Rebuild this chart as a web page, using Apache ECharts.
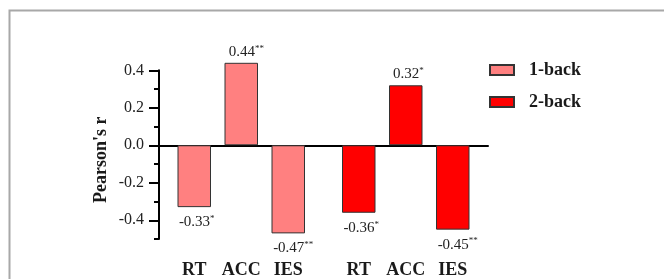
<!DOCTYPE html>
<html>
<head>
<meta charset="utf-8">
<script src="https://cdn.jsdelivr.net/npm/echarts@6/dist/echarts.min.js"></script>
<style>
html,body{margin:0;padding:0;background:#fff;}
#chart{width:664px;height:279px;}
</style>
</head>
<body>
<div id="chart"></div>
<script>
// ---- data ----
var categories = ['RT', 'ACC', 'IES'];
var seriesNames = ['1-back', '2-back'];
var oneBackValues = [-0.33, 0.44, -0.47];
var twoBackValues = [-0.36, 0.32, -0.45];
var oneBackStars = ['*', '**', '**'];
var twoBackStars = ['*', '*', '**'];
var yTickLabels = [-0.4, -0.2, 0.0, 0.2, 0.4];

// ---- build padded category axis (half-slot spacing) ----
var groups = [
  { values: oneBackValues, stars: oneBackStars },
  { values: twoBackValues, stars: twoBackStars }
];
var axisCats = [];
var seriesData = [[], []];
groups.forEach(function (g, gi) {
  categories.forEach(function (c, ci) {
    axisCats.push('');
    seriesData.forEach(function (d) { d.push('-'); });
    axisCats.push(c);
    var v = g.values[ci];
    var st = g.stars[ci];
    seriesData.forEach(function (d, di) {
      if (di === gi) {
        d.push({
          value: v,
          stars: st,
          label: {
            position: v < 0 ? 'bottom' : 'top',
            distance: v < 0 ? 7 : 3,
            offset: [st.length * 2.5, 0]
          }
        });
      } else {
        d.push('-');
      }
    });
  });
  axisCats.push('');
  seriesData.forEach(function (d) { d.push('-'); });
});

var serif = '"Liberation Serif", "Times New Roman", serif';
var colors = ['#FF8080', '#FF0000'];

function makeSeries(i) {
  return {
    name: seriesNames[i],
    type: 'bar',
    xAxisIndex: 0,
    yAxisIndex: 0,
    data: seriesData[i],
    barWidth: 33.5,
    barGap: '-100%',
    clip: false,
    itemStyle: { color: colors[i], borderColor: '#333', borderWidth: 1 },
    label: {
      show: true,
      formatter: function (p) {
        return '{n|' + p.value.toFixed(2) + '}{s|' + p.data.stars + '}';
      },
      rich: {
        n: { fontFamily: serif, fontSize: 15, color: '#222', lineHeight: 16 },
        s: { fontFamily: serif, fontSize: 9, color: '#222', verticalAlign: 'top', lineHeight: 16 }
      }
    },
    z: 3
  };
}

var chart = echarts.init(document.getElementById('chart'), null, { renderer: 'canvas' });
chart.setOption({
  animation: false,
  backgroundColor: '#fff',
  graphic: [{
    type: 'rect',
    shape: { x: 9.5, y: 10.5, width: 700, height: 300 },
    style: { fill: 'none', stroke: '#a8a8a8', lineWidth: 2 },
    silent: true
  }],
  grid: { left: 159, right: 176, top: 70.3, bottom: 36.8, containLabel: false },
  legend: {
    orient: 'vertical',
    left: 489,
    top: 61,
    itemWidth: 24,
    itemHeight: 10,
    itemGap: 14,
    icon: 'rect',
    padding: 0,
    textStyle: { fontFamily: serif, fontSize: 18, fontWeight: 'bold', color: '#1a1a1a', lineHeight: 18, padding: [0, 0, 0, 10] },
    data: seriesNames
  },
  xAxis: [{
    type: 'category',
    data: axisCats,
    axisLine: { onZero: true, lineStyle: { color: '#000', width: 2 } },
    axisTick: { show: false },
    axisLabel: { show: false },
    splitLine: { show: false }
  }, {
    type: 'category',
    data: axisCats,
    position: 'bottom',
    axisLine: { show: false, onZero: false },
    axisTick: { show: false },
    axisLabel: {
      show: true, interval: 0, margin: 22,
      fontFamily: serif, fontSize: 18, fontWeight: 'bold', color: '#1a1a1a'
    },
    splitLine: { show: false }
  }],
  yAxis: [{
    type: 'value',
    min: -0.5,
    max: 0.4,
    position: 'left',
    name: "Pearson's r",
    nameLocation: 'middle',
    nameGap: 49,
    nameTextStyle: { fontFamily: serif, fontSize: 18, fontWeight: 'bold', color: '#1a1a1a', padding: [0, 10, 0, 0] },
    axisLine: { show: true, onZero: false, lineStyle: { color: '#000', width: 2 } },
    axisTick: { show: true, customValues: yTickLabels, length: 10, lineStyle: { color: '#000', width: 2 } },
    axisLabel: {
      show: true, customValues: yTickLabels, margin: 15,
      formatter: function (v) { return v.toFixed(1); },
      fontFamily: serif, fontSize: 16, color: '#222'
    },
    splitLine: { show: false }
  }, {
    type: 'value',
    min: -0.5,
    max: 0.4,
    interval: 0.1,
    position: 'left',
    offset: 0,
    axisLine: { show: false, onZero: false },
    axisTick: { show: true, length: 5, lineStyle: { color: '#000', width: 2 } },
    axisLabel: { show: false },
    splitLine: { show: false }
  }],
  series: [makeSeries(0), makeSeries(1)]
});
</script>
</body>
</html>
